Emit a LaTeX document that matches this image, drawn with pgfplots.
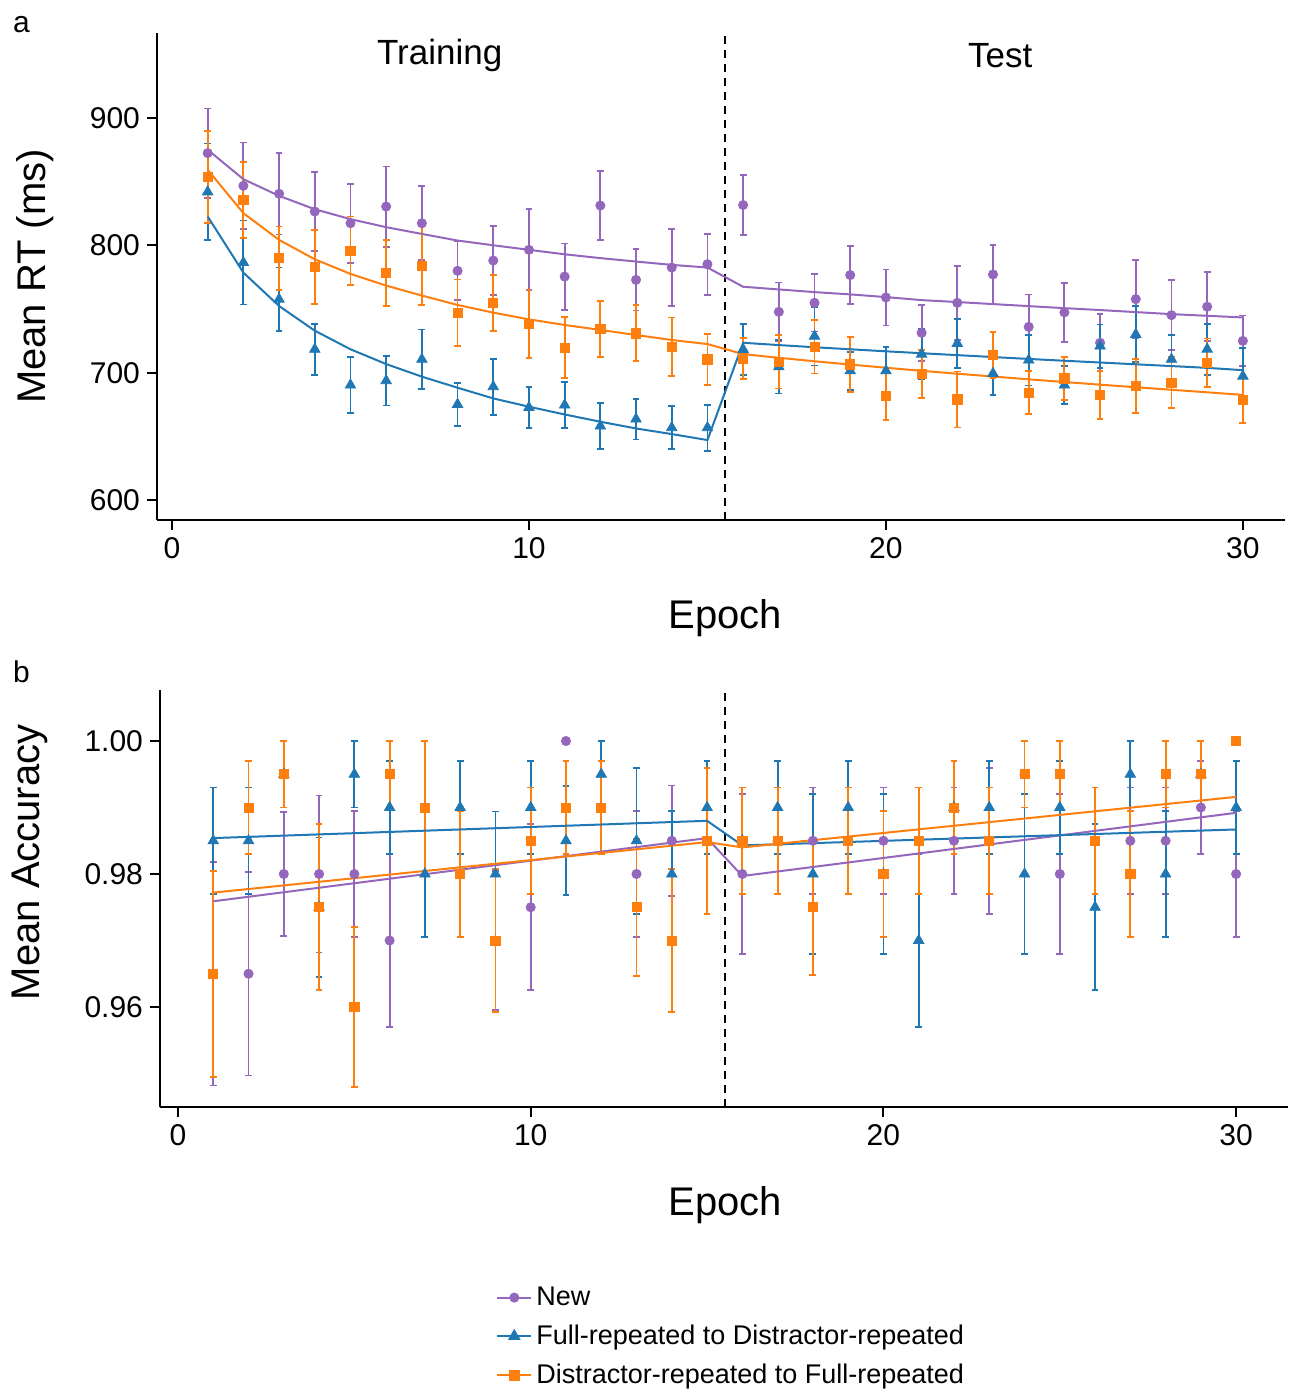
\documentclass[border=0pt]{standalone}
\usepackage{pgfplots}
\pgfplotsset{compat=1.18}
\usepackage{pgfplotstable}
\usepackage{fontspec}
\setmainfont{Liberation Sans}
\definecolor{cNew}{RGB}{148,103,189}
\definecolor{cFull}{RGB}{31,119,180}
\definecolor{cDis}{RGB}{255,127,14}

% ---------- Panel a: Mean RT ----------
\pgfplotstableread{
x y e
1 872.5 35
2 846.8 34
3 840.5 32
4 826.6 31
5 817.4 31
6 830.5 31.5
7 817.4 29
8 780.0 23
9 788.1 27
10 796.5 32
11 775.5 26
12 831.3 27
13 772.9 24
14 782.6 30
15 785.2 24
16 831.7 23.5
17 747.8 23
18 754.9 22.5
19 776.7 23
20 759.1 22
21 731.3 22
22 754.9 29
23 777.2 23
24 736.0 25.5
25 747.4 23
26 723.5 22.5
27 757.8 30.7
28 745.2 27.5
29 751.8 27
30 725.0 20
}\rtNew
\pgfplotstableread{
x y e
1 842.0 38
2 786.5 33
3 757.7 25
4 718.4 20
5 690.3 22
6 693.7 19.5
7 710.5 23.5
8 675.1 17
9 689.0 22
10 672.7 16
11 674.6 18
12 658.1 18
13 663.6 16
14 656.8 17
15 656.8 18
16 718.3 20
17 704.6 21
18 728.7 23
19 701.5 15
20 701.5 19
21 714.6 20
22 723.0 19
23 699.4 17
24 709.9 20
25 690.3 15
26 720.9 17
27 730.1 22
28 710.5 19
29 718.5 20
30 697.3 22
}\rtFull
\pgfplotstableread{
x y e
1 853.6 36
2 835.8 30
3 789.9 25
4 782.8 29
5 795.7 27
6 778.1 26
7 784.1 31
8 747.2 26
9 755.0 22
10 738.3 27
11 719.7 24
12 734.1 22
13 730.9 22
14 720.4 23
15 710.5 20
16 711.2 16
17 708.6 21
18 720.4 21
19 706.5 21.5
20 681.6 19
21 698.9 19
22 679.0 22
23 713.8 18
24 684.3 17
25 695.5 17
26 682.4 19
27 689.5 21
28 692.1 20
29 707.8 19
30 678.5 18
}\rtDis

% ---------- Panel b: Mean Accuracy ----------
\pgfplotstableread{
x y e
1 0.965 0.0168
2 0.965 0.0153
3 0.980 0.0093
4 0.980 0.0118
5 0.980 0.0095
6 0.970 0.0130
7 0.990 0.0100
8 0.980 0.0095
9 0.970 0.0105
10 0.975 0.0125
11 1.000 0
12 0.990 0.0070
13 0.980 0.0095
14 0.985 0.0083
15 0.985 0.0110
16 0.980 0.0120
17 0.985 0.0080
18 0.985 0.0080
19 0.985 0.0080
20 0.985 0.0080
21 0.985 0.0080
22 0.985 0.0080
23 0.985 0.0110
24 0.995 0.0050
25 0.980 0.0120
26 0.985 0.0080
27 0.985 0.0080
28 0.985 0.0080
29 0.990 0.0070
30 0.980 0.0095
}\acNew
\pgfplotstableread{
x y e
1 0.985 0.0080
2 0.985 0.0080
3 0.995 0.0050
4 0.975 0.0105
5 0.995 0.0050
6 0.990 0.0070
7 0.980 0.0095
8 0.990 0.0070
9 0.980 0.0094
10 0.990 0.0070
11 0.985 0.0082
12 0.995 0.0050
13 0.985 0.0110
14 0.980 0.0095
15 0.990 0.0070
16 0.985 0.0080
17 0.990 0.0070
18 0.980 0.0120
19 0.990 0.0070
20 0.980 0.0120
21 0.970 0.0130
22 0.990 0.0070
23 0.990 0.0070
24 0.980 0.0120
25 0.990 0.0070
26 0.975 0.0125
27 0.995 0.0050
28 0.980 0.0095
29 0.995 0.0050
30 0.990 0.0070
}\acFull
\pgfplotstableread{
x y e
1 0.965 0.0155
2 0.990 0.0070
3 0.995 0.0050
4 0.975 0.0125
5 0.960 0.0120
6 0.995 0.0050
7 0.990 0.0100
8 0.980 0.0095
9 0.970 0.0107
10 0.985 0.0080
11 0.990 0.0070
12 0.990 0.0070
13 0.975 0.0103
14 0.970 0.0107
15 0.985 0.0110
16 0.985 0.0080
17 0.985 0.0080
18 0.975 0.0102
19 0.985 0.0080
20 0.980 0.0095
21 0.985 0.0080
22 0.990 0.0070
23 0.985 0.0080
24 0.995 0.0050
25 0.995 0.0050
26 0.985 0.0080
27 0.980 0.0095
28 0.995 0.0050
29 0.995 0.0050
30 1.000 0
}\acDis

\pgfplotsset{
  panel/.style={
    scale only axis, width=564pt,
    axis x line*=bottom, axis y line*=left,
    axis line style={-, line width=1pt, black},
    tick align=outside, major tick length=5pt,
    tick style={line width=1pt, black},
    ticklabel style={font=\fontsize{15}{18}\selectfont},
    /pgf/number format/assume math mode=true,
    xtick={0,10,20,30},
    clip=false,
  },
  pts/.style={only marks, color=#1, mark options={solid, fill=#1, draw=#1},
    error bars/.cd, y dir=both, y explicit,
    error bar style={line width=0.9pt, #1},
    error mark options={rotate=90, mark size=1.7pt, line width=0.9pt, #1}},
  fit/.style={#1, line width=1pt, no markers, forget plot},
}

\begin{document}
\begin{tikzpicture}
\path[use as bounding box] (0,0) rectangle (649pt,-697pt);
\node[anchor=base west, font=\fontsize{15}{18}\selectfont] at (3pt,-16pt) {a};
\node[anchor=base west, font=\fontsize{15}{18}\selectfont] at (3pt,-341pt) {b};

% ---- panel a ----
\begin{axis}[panel,
  at={(78.5pt,-260pt)}, anchor=south west,
  height=243.5pt,
  xmin=-0.42, xmax=31.18, ymin=584.3, ymax=966.8,
  ytick={600,700,800,900},
  xlabel={Epoch}, ylabel={Mean RT (ms)},
  every axis x label/.style={at={(axis description cs:0.504,-0.201)}, anchor=center, font=\fontsize{20}{24}\selectfont},
  every axis y label/.style={at={(axis description cs:-0.108,0.5)}, anchor=center, rotate=90, font=\fontsize{20}{24}\selectfont},
]
\addplot[forget plot, black, dashed, line width=1pt, dash pattern=on 4pt off 3pt] coordinates {(15.5,584.3) (15.5,966.8)};
\addplot[forget plot, mark=*, mark size=2.3pt, pts=cNew] table[x=x,y=y,y error=e]{\rtNew};
\addplot[forget plot, mark=triangle*, mark size=3pt, pts=cFull] table[x=x,y=y,y error=e]{\rtFull};
\addplot[forget plot, mark=square*, mark size=2.3pt, pts=cDis] table[x=x,y=y,y error=e]{\rtDis};
\addplot[fit=cNew] coordinates {(1,875.1)(2,852.0)(3,838.9)(4,828.4)(5,820.6)(6,814.3)(7,809.0)(8,803.8)(9,800.1)(10,796.5)(11,793.0)(12,790.0)(13,787.3)(14,784.7)(15,782.6)(16,767.5)(17,765.4)(18,763.3)(19,761.5)(20,759.4)(21,757.0)(22,755.5)(23,753.9)(24,752.3)(25,750.7)(26,749.2)(27,747.6)(28,746.0)(29,744.7)(30,743.4)};
\addplot[fit=cFull] coordinates {(1,822.7)(2,778.6)(3,752.4)(4,733.0)(5,718.4)(6,706.8)(7,696.9)(8,688.2)(9,679.8)(10,673.3)(11,667.2)(12,661.5)(13,656.2)(14,651.8)(15,647.1)(16,723.5)(17,721.7)(18,720.0)(19,718.4)(20,716.8)(21,715.3)(22,713.8)(23,712.3)(24,710.8)(25,709.4)(26,708.0)(27,706.6)(28,705.2)(29,703.8)(30,702.0)};
\addplot[fit=cDis] coordinates {(1,859.4)(2,825.3)(3,804.3)(4,789.1)(5,777.6)(6,768.4)(7,760.6)(8,753.2)(9,747.2)(10,741.9)(11,737.5)(12,733.6)(13,729.6)(14,725.7)(15,722.5)(16,714.6)(17,711.7)(18,709.0)(19,706.4)(20,703.9)(21,701.5)(22,699.2)(23,697.0)(24,694.8)(25,692.7)(26,690.6)(27,688.6)(28,686.6)(29,684.6)(30,682.6)};
\node[font=\fontsize{17.5}{21}\selectfont] at (axis cs:7.5,949) {Training};
\node[font=\fontsize{17.5}{21}\selectfont] at (axis cs:23.2,949) {Test};
\end{axis}

% ---- panel b ----
\begin{axis}[panel,
  at={(80pt,-553.5pt)}, anchor=south west,
  height=208.5pt,
  xmin=-0.51, xmax=31.47, ymin=0.94496, ymax=1.00767,
  ytick={0.96,0.98,1.00},
  yticklabel style={/pgf/number format/.cd, fixed, fixed zerofill, precision=2},
  xlabel={Epoch}, ylabel={Mean Accuracy},
  every axis x label/.style={at={(axis description cs:0.501,-0.235)}, anchor=center, font=\fontsize{20}{24}\selectfont},
  every axis y label/.style={at={(axis description cs:-0.115,0.587)}, anchor=center, rotate=90, font=\fontsize{20}{24}\selectfont},
  legend style={at={(0.2924,-0.411)}, anchor=north west, draw=none, fill=none,
    font=\fontsize{13.5}{16}\selectfont, row sep=4.3pt},
  legend cell align=left,
]
\addlegendimage{cNew, line width=1pt, mark=*, mark size=2pt, mark options={solid, fill=cNew}}
\addlegendentry{New}
\addlegendimage{cFull, line width=1pt, mark=triangle*, mark size=2.7pt, mark options={solid, fill=cFull}}
\addlegendentry{Full-repeated to Distractor-repeated}
\addlegendimage{cDis, line width=1pt, mark=square*, mark size=2.1pt, mark options={solid, fill=cDis}}
\addlegendentry{Distractor-repeated to Full-repeated}
\addplot[forget plot, black, dashed, line width=1pt, dash pattern=on 4pt off 3pt] coordinates {(15.5,0.94496) (15.5,1.00767)};
\addplot[forget plot, mark=*, mark size=2.3pt, pts=cNew] table[x=x,y=y,y error=e]{\acNew};
\addplot[forget plot, mark=triangle*, mark size=3pt, pts=cFull] table[x=x,y=y,y error=e]{\acFull};
\addplot[forget plot, mark=square*, mark size=2.3pt, pts=cDis] table[x=x,y=y,y error=e]{\acDis};
\addplot[fit=cNew] coordinates {(1,0.9759)(15,0.9854)(16,0.9797)(30,0.9892)};
\addplot[fit=cFull] coordinates {(1,0.9854)(15,0.9880)(16,0.9843)(30,0.9867)};
\addplot[fit=cDis] coordinates {(1,0.9772)(15,0.9848)(16,0.9840)(30,0.9916)};
\end{axis}
\end{tikzpicture}
\end{document}
